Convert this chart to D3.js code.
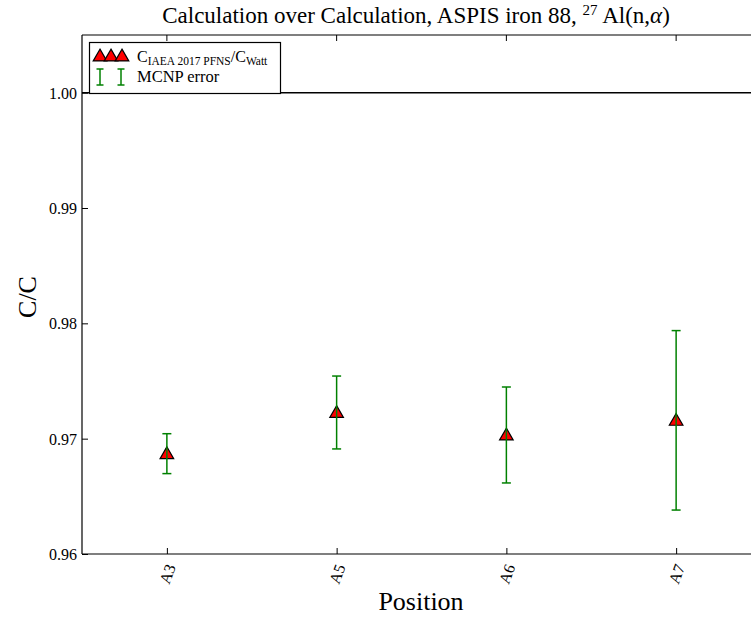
<!DOCTYPE html>
<html>
<head>
<meta charset="utf-8">
<script src="https://cdn.jsdelivr.net/npm/d3@7"></script>
<style>
  html, body { margin: 0; padding: 0; background: #fff; }
  svg { display: block; }
  svg text { font-family: "Liberation Serif", "Times New Roman", serif; fill: #000; }
</style>
</head>
<body>
<svg id="chart" width="751" height="619"></svg>
<script>
// Irradiation positions
const positions = ["A3", "A5", "A6", "A7"];
// Ratio C(IAEA 2017 PFNS) / C(Watt)
const ratios = [0.9687, 0.97227, 0.97032, 0.97159];
// MCNP statistical error (absolute, symmetric)
const errors = [0.00173, 0.00316, 0.00416, 0.00778];
// Y axis tick values
const yTicks = [0.96, 0.97, 0.98, 0.99, 1.00];

const SERIF = "'Liberation Serif', 'Times New Roman', serif";
const margin = { left: 82, top: 35, right: 761, bottom: 554 };

const svg = d3.select("#chart");

const x = d3.scaleLinear().domain([-0.5, positions.length - 0.5]).range([margin.left, margin.right]);
const y = d3.scaleLinear().domain([0.96, 1.005]).range([margin.bottom, margin.top]);

const tickLen = 6;

// Axes frame (right side runs past the viewport)
const frame = svg.append("g").attr("stroke", "#000").attr("stroke-width", 1.2);
frame.append("line").attr("x1", margin.left).attr("x2", margin.right)
  .attr("y1", margin.bottom).attr("y2", margin.bottom);
frame.append("line").attr("x1", margin.left).attr("x2", margin.right)
  .attr("y1", margin.top).attr("y2", margin.top);
frame.append("line").attr("x1", margin.left).attr("x2", margin.left)
  .attr("y1", margin.top).attr("y2", margin.bottom);

// Y axis (inward ticks)
const yAxis = d3.axisLeft(y).tickValues(yTicks).tickFormat(d3.format(".2f"))
  .tickSizeInner(-tickLen).tickSizeOuter(0);
const gy = svg.append("g").attr("transform", `translate(${margin.left},0)`).call(yAxis)
  .attr("font-family", SERIF);
gy.select(".domain").remove();
gy.selectAll("text").attr("font-size", 16).attr("x", -5).attr("dy", "0.34em");
gy.selectAll("line").attr("stroke", "#000");

// X axis (inward ticks, rotated labels)
const xAxis = d3.axisBottom(x).tickValues(d3.range(positions.length))
  .tickFormat(i => positions[i]).tickSizeInner(-tickLen).tickSizeOuter(0);
const gx = svg.append("g").attr("transform", `translate(0,${margin.bottom})`).call(xAxis)
  .attr("font-family", SERIF);
gx.select(".domain").remove();
gx.selectAll("line").attr("stroke", "#000");
gx.selectAll("text")
  .attr("font-size", 16)
  .attr("y", 0).attr("dy", 0)
  .attr("text-anchor", "middle")
  .attr("dominant-baseline", "central")
  .attr("transform", "translate(0,20) rotate(-70)");

// Top ticks
svg.append("g").selectAll("line").data(d3.range(positions.length)).join("line")
  .attr("x1", d => x(d)).attr("x2", d => x(d))
  .attr("y1", margin.top).attr("y2", margin.top + tickLen).attr("stroke", "#000");

// Reference line at 1.0
svg.append("line").attr("x1", margin.left).attr("x2", margin.right)
  .attr("y1", y(1.0)).attr("y2", y(1.0)).attr("stroke", "#000").attr("stroke-width", 1.5);

// Triangle marker symbol
const tri = d3.symbol().type(d3.symbolTriangle).size(80);

const pts = positions.map((p, i) => ({ i, v: ratios[i], e: errors[i] }));

// Markers
svg.append("g").selectAll("path").data(pts).join("path")
  .attr("d", tri)
  .attr("transform", d => `translate(${x(d.i)},${y(d.v) + 1})`)
  .attr("fill", "#ff0000").attr("stroke", "#000").attr("stroke-width", 1.2);

// Error bars
const capW = 4.5;
const eb = svg.append("g").attr("stroke", "#008000").attr("stroke-width", 1.5);
eb.selectAll("line.v").data(pts).join("line").attr("class", "v")
  .attr("x1", d => x(d.i)).attr("x2", d => x(d.i))
  .attr("y1", d => y(d.v + d.e)).attr("y2", d => y(d.v - d.e));
eb.selectAll("line.t").data(pts).join("line").attr("class", "t")
  .attr("x1", d => x(d.i) - capW).attr("x2", d => x(d.i) + capW)
  .attr("y1", d => y(d.v + d.e)).attr("y2", d => y(d.v + d.e));
eb.selectAll("line.b").data(pts).join("line").attr("class", "b")
  .attr("x1", d => x(d.i) - capW).attr("x2", d => x(d.i) + capW)
  .attr("y1", d => y(d.v - d.e)).attr("y2", d => y(d.v - d.e));

// Legend
const lg = svg.append("g");
lg.append("rect").attr("x", 89.5).attr("y", 42.5).attr("width", 191).attr("height", 51)
  .attr("fill", "#fff").attr("stroke", "#000").attr("stroke-width", 1.2);
[100, 111, 122].forEach(cx => {
  lg.append("path").attr("d", tri).attr("transform", `translate(${cx},57)`)
    .attr("fill", "#ff0000").attr("stroke", "#000").attr("stroke-width", 1.2);
});
const lt1 = lg.append("text").attr("x", 137).attr("y", 62).attr("font-size", 16);
lt1.append("tspan").text("C");
lt1.append("tspan").attr("dy", 3).attr("font-size", 11.5).text("IAEA 2017 PFNS");
lt1.append("tspan").attr("dy", -3).text("/C");
lt1.append("tspan").attr("dy", 3).attr("font-size", 11.5).text("Watt");

[100, 121].forEach(cx => {
  const g = lg.append("g").attr("stroke", "#008000").attr("stroke-width", 1.5);
  g.append("line").attr("x1", cx).attr("x2", cx).attr("y1", 69).attr("y2", 85);
  g.append("line").attr("x1", cx - 3.5).attr("x2", cx + 3.5).attr("y1", 69).attr("y2", 69);
  g.append("line").attr("x1", cx - 3.5).attr("x2", cx + 3.5).attr("y1", 85).attr("y2", 85);
});
lg.append("text").attr("x", 137).attr("y", 82).attr("font-size", 16.5).text("MCNP error");

// Title
const title = svg.append("text").attr("x", 416).attr("y", 23).attr("text-anchor", "middle")
  .attr("font-size", 23);
title.append("tspan").text("Calculation over Calculation, ASPIS iron 88, ");
title.append("tspan").attr("dy", -8).attr("font-size", 15).text("27");
title.append("tspan").attr("dy", 8).text("\u2009Al(n,");
title.append("tspan").attr("font-style", "italic").text("\u03b1");
title.append("tspan").text(")");

// Axis labels
svg.append("text").attr("x", 421).attr("y", 610).attr("text-anchor", "middle")
  .attr("font-size", 26).text("Position");
svg.append("text").attr("transform", "translate(36,297) rotate(-90)").attr("text-anchor", "middle")
  .attr("font-size", 26).text("C/C");
</script>
</body>
</html>
